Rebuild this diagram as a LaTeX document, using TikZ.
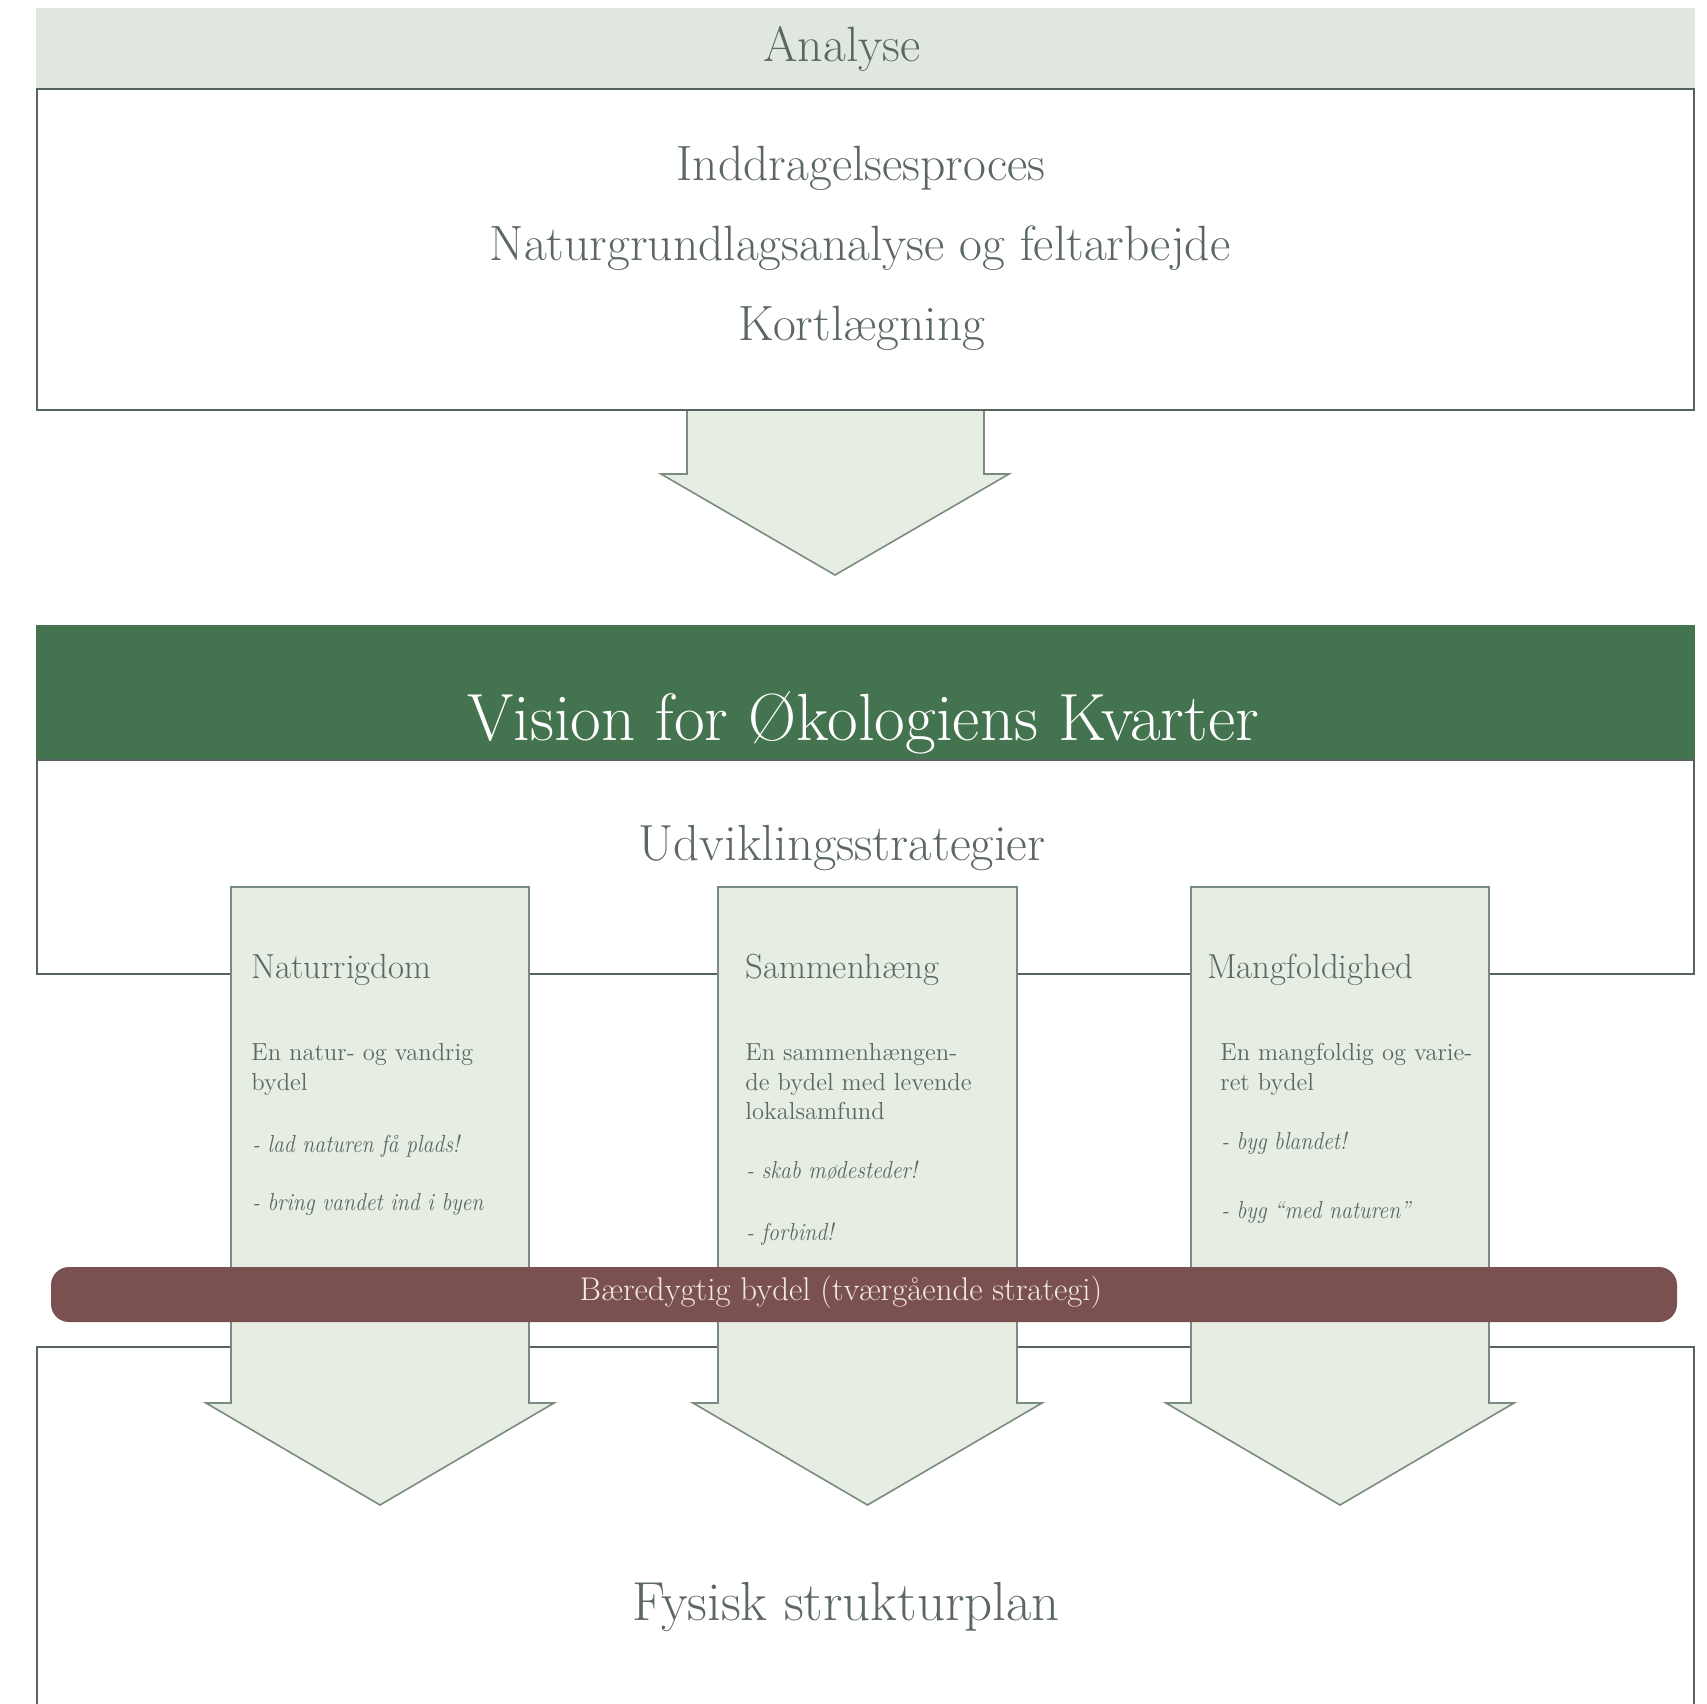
\documentclass[tikz,border=0pt]{standalone}
\usepackage{fontspec}
\definecolor{txtgrey}{HTML}{5B6763}
\definecolor{linegrey}{HTML}{56635F}
\definecolor{headfill}{HTML}{DFE7E0}
\definecolor{colfill}{HTML}{E6EEE3}
\definecolor{arrowline}{HTML}{7A8C7F}
\definecolor{visgreen}{HTML}{44744F}
\definecolor{burgundy}{HTML}{7A5150}
\definecolor{pilltxt}{HTML}{F2E9E9}
\newcommand{\condit}[1]{\scalebox{0.885}[1]{#1}}
\tikzset{
  boxline/.style={draw=linegrey, line width=1pt},
  arrowfill/.style={fill=colfill},
  arrowedge/.style={draw=arrowline, line width=0.8pt, line join=miter},
  bigtxt/.style={text=txtgrey, font=\fontsize{24.8}{29}\selectfont, inner sep=0pt, anchor=base},
  headtxt/.style={text=txtgrey, font=\fontsize{17.4}{20}\selectfont, inner sep=0pt, anchor=base west},
  bodytxt/.style={text=txtgrey, font=\fontsize{12.3}{15}\selectfont, inner sep=0pt, anchor=base west},
  emtxt/.style={text=txtgrey, font=\fontsize{12.3}{15}\selectfont\itshape, inner sep=0pt, anchor=base west},
}
\begin{document}
\begin{tikzpicture}[x=0.5pt,y=-0.5pt]
\useasboundingbox (0,0) rectangle (1707,1703);
% --- Analyse header and box
\fill[headfill] (36,8) rectangle (1695,89);
\draw[boxline, fill=white] (37,89) rectangle (1694,410);
% --- arrow 1
\fill[arrowfill] (687,410) -- (687,474) -- (661,474) -- (835,575) -- (1009,474) -- (984,474) -- (984,410) -- cycle;
\draw[arrowedge] (687,410) -- (687,474) -- (661,474) -- (835,575) -- (1009,474) -- (984,474) -- (984,410);
\draw[boxline] (37,410) -- (1694,410);
% --- Vision band and strategy box
\fill[visgreen] (36,625) rectangle (1695,760);
\draw[boxline] (37,760) rectangle (1694,974);
% --- bottom box (open below)
\draw[boxline] (37,1730) -- (37,1347) -- (1694,1347) -- (1694,1730);
% --- column arrows
\foreach \l/\r/\c in {231/529/380, 718/1017/867.5, 1191/1489/1340}{
  \path[arrowfill, arrowedge] (\l,887) -- (\l,1403) -- (\l-25,1403) -- (\c,1505) -- (\r+25,1403) -- (\r,1403) -- (\r,887) -- cycle;
}
% --- pill
\fill[burgundy, rounded corners=9pt] (51,1267) rectangle (1677,1322);
% --- texts
\node[bigtxt] (analyse) at (842,61) {Analyse};
\node[bigtxt] (inddrag) at (861,180) {Inddragelsesproces};
\node[bigtxt] (natur) at (860,260) {Naturgrundlagsanalyse og feltarbejde};
\node[bigtxt] (kort) at (862,340) {Kortlægning};
\node[text=white, font=\fontsize{33.4}{40}\selectfont, inner sep=0pt, anchor=base] (vision) at (863,740) {Vision for Økologiens Kvarter};
\node[bigtxt, font=\fontsize{25.4}{30}\selectfont] (udv) at (842,860) {Udviklingsstrategier};
\node[bigtxt, font=\fontsize{27.5}{32}\selectfont] (fysisk) at (846,1620) {Fysisk strukturplan};
\node[text=pilltxt, font=\fontsize{16.4}{19}\selectfont, inner sep=0pt, anchor=base] (baered) at (841,1300) {Bæredygtig bydel (tværgående strategi)};
% column 1
\node[headtxt] (h1) at (251,978) {Naturrigdom};
\node[bodytxt] (a1) at (251,1060) {En natur- og vandrig};
\node[bodytxt] (a2) at (251,1090) {bydel};
\node[emtxt] (a3) at (252,1152) {\condit{- lad naturen få plads!}};
\node[emtxt] (a4) at (252,1210) {\condit{- bring vandet ind i byen}};
% column 2
\node[headtxt] (h2) at (745,978) {Sammenhæng};
\node[bodytxt] (b1) at (745,1060) {En sammenhængen-};
\node[bodytxt] (b2) at (745,1090) {de bydel med levende};
\node[bodytxt] (b3) at (745,1119) {lokalsamfund};
\node[emtxt] (b4) at (746,1178) {\condit{- skab mødesteder!}};
\node[emtxt] (b5) at (746,1240) {\condit{- forbind!}};
% column 3
\node[headtxt] (h3) at (1207,978) {Mangfoldighed};
\node[bodytxt] (c1) at (1220,1060) {En mangfoldig og varie-};
\node[bodytxt] (c2) at (1220,1090) {ret bydel};
\node[emtxt] (c3) at (1221,1149) {\condit{- byg blandet!}};
\node[emtxt] (c4) at (1221,1218) {\condit{- byg “med naturen”}};
\end{tikzpicture}
\end{document}
